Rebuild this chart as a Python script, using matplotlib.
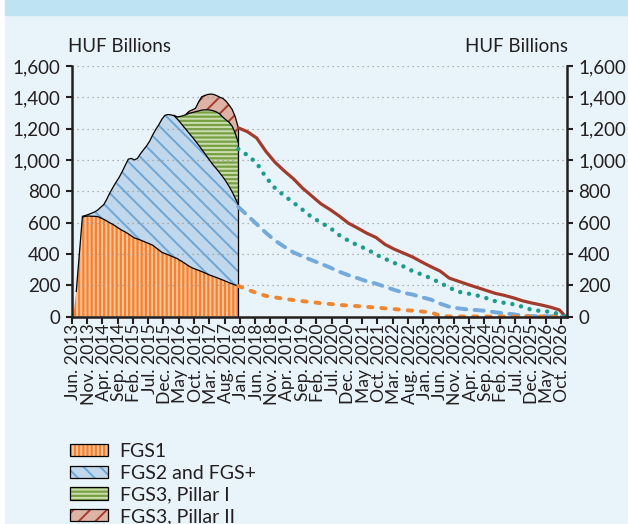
import numpy as np
import pandas as pd
import matplotlib
matplotlib.use('Agg')
import matplotlib.pyplot as plt
from matplotlib.patches import Patch, Rectangle
from matplotlib.ticker import FuncFormatter

plt.rcParams['font.family'] = ['Lato', 'DejaVu Sans']
plt.rcParams['hatch.linewidth'] = 1.4

# outstanding amounts, monthly (HUF billions)
area_dates = pd.date_range('2013-06-01', '2017-12-01', freq='MS')
fgs1 = [0, 160, 400, 635, 640, 642, 640, 640, 638, 630,
        620, 610, 598, 588, 575, 562, 550, 540, 528, 515,
        502, 495, 488, 480, 472, 464, 455, 440, 425, 410,
        402, 395, 386, 378, 370, 358, 346, 333, 320, 310,
        302, 295, 287, 279, 270, 262, 255, 248, 240, 232,
        224, 216, 208, 201, 195]
fgs2 = [0, 0, 0, 5, 5, 10, 20, 28, 42, 68,
        95, 140, 192, 237, 283, 326, 375, 425, 477, 495,
        498, 515, 552, 585, 618, 656, 705, 755, 800, 850,
        883, 895, 902, 904, 892, 882, 869, 859, 848, 835,
        818, 800, 781, 763, 745, 726, 707, 692, 675, 658,
        638, 614, 587, 554, 520]
fgs3_p1 = [0] * 33 + [3, 13, 38, 68, 98, 130, 158, 188, 218, 250, 278,
                      305, 330, 351, 365, 377, 382, 393, 410, 420, 415, 395]
fgs3_p2 = [0] * 37 + [5, 14, 17, 22, 57, 85, 92, 98, 103, 105, 105, 108,
                      120, 120, 110, 107, 105, 95]

# expected run-off (cumulative)
fcst_dates = list(pd.date_range('2017-12-01', '2026-09-01', freq='3MS')) + [pd.Timestamp('2026-11-01')]
run_total = [1205, 1180, 1140, 1055, 985, 930, 880, 820, 770, 720, 683, 642, 596, 565, 532, 505,
             460, 430, 405, 380, 348, 318, 290, 245, 225, 205, 186, 167, 148, 135, 119, 100,
             86, 74, 60, 42, 0]
run_p1 = [1070, 1030, 980, 890, 820, 772, 728, 682, 635, 600, 566, 520, 484, 455, 430, 396,
          368, 342, 320, 290, 268, 244, 215, 184, 158, 147, 135, 118, 98, 87, 78, 62,
          42, 35, 30, 15, 0]
run_fgs2 = [700, 645, 590, 535, 485, 446, 410, 384, 360, 337, 313, 286, 264, 245, 225, 210,
            190, 170, 152, 140, 123, 108, 82, 62, 52, 45, 41, 36, 27, 20, 14, 5,
            2, 2, 1, 1, 0]
run_fgs1 = [195, 172, 150, 132, 122, 113, 105, 98, 92, 85, 80, 74, 70, 66, 62, 57,
            52, 47, 42, 37, 32, 26, 5, 0, 0, 0, 0, 0, 0, 0, 0, 0,
            0, 0, 0, 0, 0]

tick_dates = pd.date_range('2013-06-01', '2026-10-01', freq='5MS')
mon = ['Jan.', 'Feb.', 'Mar.', 'Apr.', 'May', 'Jun.', 'Jul.', 'Aug.', 'Sep.', 'Oct.', 'Nov.', 'Dec.']


def midx(dates):
    return np.array([(d.year - 2013) * 12 + d.month - 6 for d in dates])


txt = '#231F20'
fig = plt.figure(figsize=(6.28, 5.24), dpi=100)
fig.patch.set_facecolor('white')
fig.add_artist(Rectangle((5 / 628, 0), 1, 1, transform=fig.transFigure, color='#E9F4FA', zorder=-10))
fig.add_artist(Rectangle((5 / 628, 1 - 15 / 524), 1, 15 / 524, transform=fig.transFigure,
                         color='#BEE3F3', zorder=-9))

ax = fig.add_axes([71.7 / 628, 1 - 316.5 / 524, (567 - 71.7) / 628, (316.5 - 66) / 524])
ax.set_facecolor('none')

xa = midx(area_dates)
c1 = np.array(fgs1)
c2 = c1 + np.array(fgs2)
c3 = c2 + np.array(fgs3_p1)
c4 = c3 + np.array(fgs3_p2)

styles = [
    ('FGS1', np.zeros_like(c1), c1, '#F3812E', '#FBC49C', '||||'),
    ('FGS2 and FGS+', c1, c2, '#C0D7EC', '#6EA7D6', '\\\\'),
    ('FGS3, Pillar I', c2, c3, '#76A042', '#CBDDAE', '----'),
    ('FGS3, Pillar II', c3, c4, '#DDB3A6', '#A8392C', '//'),
]
handles = []
for name, lo, hi, fc, hc, hatch in styles:
    ax.fill_between(xa, lo, hi, facecolor=fc, edgecolor=hc, hatch=hatch, linewidth=0, zorder=1)
    handles.append((Patch(facecolor=fc, edgecolor=hc, hatch=hatch, linewidth=0),
                    Patch(fill=False, edgecolor='black', linewidth=0.9)))

for top, comp in [(c1, fgs1), (c2, fgs2), (c3, fgs3_p1), (c4, fgs3_p2)]:
    y = np.where(np.array(comp) > 0, top, np.nan)
    ax.plot(xa, y, color='black', lw=0.9, zorder=2)
ax.plot([xa[-1], xa[-1]], [0, c4[-1]], color='black', lw=0.9, zorder=2)

xf = midx(fcst_dates)
ax.plot(xf, run_total, color='#A23B2C', lw=2.3, solid_capstyle='round', zorder=4, clip_on=False)
ax.plot(xf, run_p1, color='#1B9C8C', lw=3.2, linestyle=(0, (0.01, 2.0)),
        dash_capstyle='round', zorder=4, clip_on=False)
ax.plot(xf, run_fgs2, color='#73AADB', lw=2.8, linestyle=(0, (2.4, 2.1)),
        dash_capstyle='round', zorder=3, clip_on=False)
ax.plot(xf, run_fgs1, color='#F0842F', lw=2.8, linestyle=(0, (1.1, 2.3)),
        dash_capstyle='round', zorder=3, clip_on=False)

ax.set_xlim(-0.5, 161.5)
ax.set_ylim(0, 1600)
ax.set_yticks(np.arange(0, 1601, 200))
fmt = FuncFormatter(lambda v, p: f'{int(v):,}')
ax.yaxis.set_major_formatter(fmt)
ax.grid(axis='y', color='#9A9A9A', linestyle=(0, (1, 3)), lw=0.9, zorder=0)

xt = midx(tick_dates)
ax.set_xticks(xt)
ax.set_xticklabels([f'{mon[d.month - 1]} {d.year}' for d in tick_dates], rotation=90,
                   ha='center', va='top')
ax.set_xticks(xt - 0.5, minor=True)
ax.tick_params(axis='x', which='major', length=0, pad=5, labelsize=12.6, labelcolor=txt)
ax.tick_params(axis='x', which='minor', direction='out', length=5, width=1.5, color=txt)
ax.tick_params(axis='y', direction='out', length=4, width=1.5, color=txt, labelsize=13.5,
               labelcolor=txt, pad=4)

for s in ['top', 'right']:
    ax.spines[s].set_visible(False)
for s in ['left', 'bottom']:
    ax.spines[s].set_linewidth(1.8)
    ax.spines[s].set_color(txt)
    ax.spines[s].set_zorder(5)

ax2 = ax.twinx()
ax2.set_ylim(0, 1600)
ax2.set_yticks(np.arange(0, 1601, 200))
ax2.yaxis.set_major_formatter(fmt)
ax2.tick_params(axis='y', direction='out', length=4, width=1.5, color=txt, labelsize=13.5,
                labelcolor=txt, pad=4)
for s in ['top', 'left', 'bottom']:
    ax2.spines[s].set_visible(False)
ax2.spines['right'].set_linewidth(1.8)
ax2.spines['right'].set_color(txt)

fig.text(68 / 628, 1 - 47 / 524, 'HUF Billions', ha='left', va='center', fontsize=13.5, color=txt)
fig.text(568 / 628, 1 - 47 / 524, 'HUF Billions', ha='right', va='center', fontsize=13.5, color=txt)

fig.legend(handles, [s[0] for s in styles], loc='upper left',
           bbox_to_anchor=(70 / 628, 1 - 443 / 524), frameon=False, fontsize=14,
           handlelength=1.95, handleheight=0.6, labelspacing=0.24, handletextpad=0.6,
           borderaxespad=0, borderpad=0, labelcolor=txt)

fig.savefig('out.png', dpi=100, facecolor=fig.get_facecolor())
